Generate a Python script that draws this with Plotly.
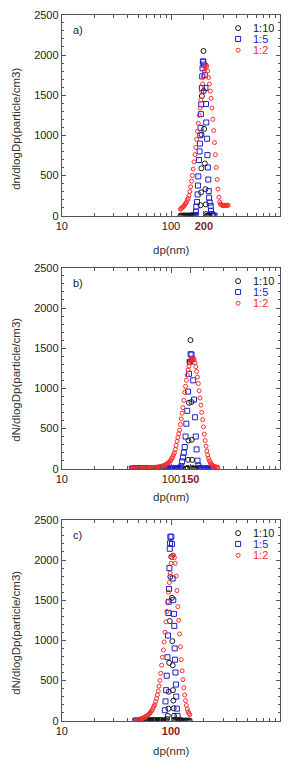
import plotly.graph_objects as go

# ---------------- data (dp in nm, dN/dlogDp in particle/cm3) ----------------
# panel a
a_red_dp = [121.9, 124.1, 126.3, 128.6, 131.0, 133.4, 135.8, 138.2, 140.8, 143.3,
            145.9, 148.6, 151.2, 154.0, 156.8, 159.6, 162.5, 165.5, 168.5, 171.5,
            174.7, 177.8, 181.1, 184.3, 187.7, 191.1, 194.6, 198.1, 201.7, 205.4,
            209.1, 212.9, 216.7, 220.7, 224.7, 228.8, 232.9, 237.1, 241.4, 245.8,
            250.3, 254.8, 259.5, 264.2, 269.0, 273.9, 278.8, 283.9, 289.0, 294.3,
            299.6, 305.1, 310.6, 316.2, 322.0, 327.8, 333.8]
a_red = [80, 90, 100, 110, 120, 135, 150, 165, 190, 215,
         250, 300, 360, 430, 500, 580, 670, 760, 850, 950,
         1050, 1150, 1250, 1340, 1440, 1540, 1640, 1730, 1800, 1850,
         1880, 1860, 1800, 1720, 1640, 1550, 1460, 1340, 1200, 1060,
         910, 760, 600, 450, 330, 230, 170, 145, 135, 130,
         125, 125, 125, 128, 130, 130, 128]
a_blue_dp = [156.8, 159.6, 162.5, 165.5, 168.2, 169.3, 170.5, 172.9, 175.3, 176.4,
             177.7, 180.2, 182.7, 183.9, 185.2, 186.4, 187.7, 189.0, 191.6, 193.0,
             194.3, 195.6, 197.6, 199.7, 203.9, 206.7, 209.0, 210.3, 213.9, 215.4,
             217.5, 219.5, 221.4, 223.0, 226.1, 230.8, 232.4, 235.6, 239.0, 241.4,
             245.8, 250.3]
a_blue = [0, 0, 0, 0, 10, 49, 114, 171, 265, 375,
          489, 693, 800, 897, 1000, 1093, 1264, 1386, 1590, 1733,
          1835, 1917, 1920, 1880, 1750, 1590, 1390, 1160, 958, 754,
          600, 450, 306, 224, 163, 122, 61, 20, 5, 0,
          0, 0]
a_black_dp = [121.9, 124.1, 126.3, 128.6, 131.0, 133.4, 135.8, 138.2, 140.8, 143.3,
              145.9, 148.6, 151.2, 154.0, 156.8, 186.4, 188.4, 189.6, 190.3, 191.6,
              198.4, 199.7, 201.1, 203.9, 206.7, 208.2, 209.6, 212.9, 216.7, 220.7,
              224.7]
a_black = [0, 0, 0, 0, 0, 0, 0, 0, 0, 0,
           0, 0, 0, 0, 0, 130, 290, 590, 1010, 1490,
           2050, 1550, 1080, 650, 330, 140, 20, 0, 0, 0,
           0]

# panel b
b_dp = [43.7, 44.5, 45.3, 46.1, 47.0, 47.8, 48.7, 49.6, 50.5, 51.4,
        52.3, 53.3, 54.2, 55.2, 56.2, 57.3, 58.3, 59.4, 60.4, 61.5,
        62.6, 63.8, 64.9, 66.1, 67.3, 68.5, 69.8, 71.0, 72.3, 73.7,
        75.0, 76.4, 77.7, 79.1, 80.6, 82.0, 83.5, 85.1, 86.6, 88.2,
        89.8, 91.4, 93.1, 94.7, 96.5, 98.2, 100.0, 101.8, 103.7, 105.5,
        107.5, 109.4, 111.4, 113.4, 115.5, 117.6, 119.7, 121.9, 124.1, 126.3,
        128.6, 131.0, 133.4, 135.8, 138.2, 140.8, 143.3, 145.9, 148.6, 151.2,
        154.0, 156.8, 159.6, 162.5, 165.5, 168.5, 171.5, 174.7, 177.8, 181.1,
        184.3, 187.7, 191.1, 194.6, 198.1, 201.7, 205.4, 209.1, 212.9, 216.7,
        220.7, 224.7, 228.8, 232.9, 237.1, 241.4, 245.8, 250.3, 254.8, 259.5,
        264.2, 269.0]
b_red = [3, 3, 3, 3, 4, 4, 4, 4, 5, 5,
         5, 5, 6, 6, 6, 7, 7, 8, 8, 9,
         10, 10, 11, 12, 13, 14, 15, 16, 17, 18,
         19, 20, 22, 24, 26, 29, 32, 36, 40, 45,
         50, 56, 63, 72, 82, 95, 110, 130, 150, 175,
         200, 240, 290, 340, 390, 435, 480, 550, 620, 690,
         760, 850, 950, 1025, 1100, 1165, 1230, 1275, 1320, 1350,
         1370, 1378, 1375, 1355, 1320, 1270, 1210, 1140, 1060, 970,
         880, 790, 700, 610, 520, 430, 350, 280, 220, 170,
         130, 100, 75, 58, 45, 37, 30, 26, 22, 20,
         18, 16]
b_blue = [0, 0, 0, 0, 0, 0, 0, 0, 0, 0,
          0, 0, 0, 0, 0, 0, 0, 0, 0, 0,
          0, 0, 0, 0, 0, 0, 0, 0, 0, 0,
          0, 0, 0, 0, 0, 0, 0, 0, 0, 0,
          0, 0, 0, 0, 0, 0, 0, 0, 0, 0,
          0, 0, 0, 0, 0, 0, 5, 15, 30, 90,
          140, 200, 270, 400, 560, 720, 960, 1180, 1330, 1425,
          1420, 1368, 1100, 860, 640, 400, 240, 100, 40, 10,
          0, 0, 0, 0, 0, 0, 0, 0, 0, 0,
          0, 0, 0, 0, 0, 0]
b_black_dp = [135.8, 138.2, 140.8, 142.4, 143.5, 144.5, 146.0, 147.6, 150.7, 153.0,
              153.8, 154.8, 155.9, 157.0, 159.6, 162.5, 165.5, 168.5]
b_black = [0, 0, 0, 10, 110, 350, 820, 1330, 1600, 1350,
           830, 360, 110, 10, 0, 0, 0, 0]

# panel c
c_red_dp = [47.8, 48.7, 49.6, 50.5, 51.4, 52.3, 53.3, 54.2, 55.2, 56.2,
            57.3, 58.3, 59.4, 60.4, 61.5, 62.6, 63.8, 64.9, 66.1, 67.3,
            68.5, 69.8, 71.0, 72.3, 73.7, 75.0, 76.4, 77.7, 79.1, 80.6,
            82.0, 83.5, 85.1, 86.6, 88.2, 89.8, 91.4, 93.1, 94.7, 96.5,
            98.2, 100.0, 101.8, 103.7, 105.5, 107.5, 109.4, 111.4, 113.4, 115.5,
            117.6, 119.7, 121.9, 124.1, 126.3, 128.6, 131.0, 133.4, 135.8, 138.2,
            140.8, 143.3, 145.9, 148.6]
c_red = [12, 13, 14, 16, 18, 20, 23, 27, 31, 36,
         42, 48, 55, 62, 70, 80, 92, 105, 120, 135,
         160, 180, 200, 235, 275, 320, 370, 430, 500, 590,
         690, 790, 880, 980, 1100, 1230, 1360, 1480, 1600, 1720,
         1840, 1960, 2030, 2060, 2060, 2030, 1960, 1800, 1620, 1420,
         1250, 1080, 920, 760, 620, 510, 410, 320, 250, 190,
         145, 110, 90, 75]
c_blue_dp = [47.0, 47.8, 48.7, 49.6, 50.5, 51.4, 52.3, 53.3, 54.2, 55.2,
             56.2, 57.3, 58.3, 59.4, 60.4, 61.5, 62.6, 63.8, 64.9, 66.1,
             67.3, 68.5, 69.8, 71.0, 72.3, 73.7, 75.0, 76.4, 77.7, 79.1,
             80.6, 82.0, 83.5, 85.1, 86.6, 87.8, 89.0, 90.2, 91.4, 92.7,
             93.9, 94.6, 95.2, 95.9, 96.6, 97.3, 98.0, 98.6, 100.7, 102.1,
             103.5, 104.9, 106.4, 107.2, 108.0, 108.6, 109.8, 110.9, 111.7, 113.2,
             114.8, 117.2, 119.7, 121.9]
c_blue = [0, 0, 0, 0, 0, 0, 0, 0, 0, 0,
          0, 0, 0, 0, 0, 0, 0, 0, 0, 0,
          0, 0, 0, 0, 0, 0, 0, 0, 0, 0,
          0, 0, 0, 0, 0, 130, 240, 380, 560, 790,
          1060, 1340, 1480, 1640, 1900, 2140, 2210, 2290, 2290, 2200,
          1770, 1500, 1330, 1180, 900, 760, 600, 450, 300, 150,
          60, 10, 0, 0]
c_black_dp = [55.2, 56.2, 57.3, 58.3, 59.4, 60.4, 61.5, 62.6, 63.8, 64.9,
              66.1, 67.3, 68.5, 69.8, 71.0, 72.3, 73.7, 75.0, 76.4, 77.7,
              79.1, 80.6, 82.0, 83.5, 85.1, 86.6, 88.2, 90.5, 92.1, 93.3,
              94.6, 95.3, 96.2, 97.3, 98.6, 100.7, 102.0, 102.8, 103.6, 104.2,
              105.0, 105.7, 106.5, 107.2, 109.4, 111.4, 113.4, 115.5, 117.6, 119.7,
              121.9, 124.1, 126.3, 128.6, 131.0, 133.4, 135.8, 138.2, 140.8, 143.3,
              145.9, 148.6]
c_black = [0, 0, 0, 0, 0, 0, 0, 0, 0, 0,
           0, 0, 0, 0, 0, 0, 0, 0, 0, 0,
           0, 0, 0, 0, 0, 0, 0, 0, 20, 60,
           150, 360, 720, 1240, 1790, 2040, 1530, 990, 690, 380,
           250, 155, 60, 10, 0, 0, 0, 0, 0, 0,
           0, 0, 0, 0, 0, 0, 0, 0, 0, 0,
           0, 0]

series_names = ["1:10", "1:5", "1:2"]
x_ticks = [10, 100, 1000]
y_ticks = [0, 500, 1000, 1500, 2000, 2500]
panel_letters = ["a)", "b)", "c)"]
panel_marks = [200, 150, 100]          # size highlighted on the x axis
y_titles = ["dn/dlogDp(particle/cm3)", "dN/dlogDp(particle/cm3)", "dN/dlogDp(particle/cm3)"]

for xs, ys in [(a_red_dp, a_red), (a_blue_dp, a_blue), (a_black_dp, a_black),
               (b_dp, b_red), (c_red_dp, c_red), (c_blue_dp, c_blue), (c_black_dp, c_black),
               (b_black_dp, b_black)]:
    assert len(xs) == len(ys), (len(xs), len(ys))
assert len(b_blue) <= len(b_dp)

panels = [
    dict(black=(a_black_dp, a_black), blue=(a_blue_dp, a_blue), red=(a_red_dp, a_red)),
    dict(black=(b_black_dp, b_black), blue=(b_dp[:len(b_blue)], b_blue), red=(b_dp, b_red)),
    dict(black=(c_black_dp, c_black), blue=(c_blue_dp, c_blue), red=(c_red_dp, c_red)),
]

# ---------------- styling / layout ----------------
W, H = 291, 770
FONT = "Liberation Sans, Arial, sans-serif"
TXT = "#222222"
BLACK, BLUE, RED = "#1a1a1a", "#1e1ed2", "#ff2b2b"
MARK = "#8b1a1a"
X0, X1 = 57, 280
tops = [9, 266, 522]
bottoms = [213, 470, 726]

def px(x):
    return x / W

def py(y):
    return 1 - y / H

fig = go.Figure()
annotations = []
shapes = []

for i, p in enumerate(panels):
    n = "" if i == 0 else str(i + 1)
    xa, ya = "x" + n, "y" + n
    style = dict(
        blue=dict(symbol="square-open", size=5, color=BLUE, line=dict(width=1, color=BLUE)),
        black=dict(symbol="circle-open", size=5, color=BLACK, line=dict(width=1, color=BLACK)),
        red=dict(symbol="circle-open", size=4, color=RED, line=dict(width=1, color=RED)),
    )
    for key in ["blue", "black", "red"]:
        xs, ys = p[key]
        fig.add_trace(go.Scatter(x=xs, y=ys, mode="markers", marker=style[key],
                                 xaxis=xa, yaxis=ya, showlegend=False, hoverinfo="skip"))

    mark = panel_marks[i]
    hl = '<b><span style="color:%s">%d</span></b>' % (MARK, mark)
    tv, tt = [], []
    for t in x_ticks:
        tv.append(t)
        tt.append(hl if t == mark else str(t))
    if mark not in x_ticks:
        tv.append(mark)
        tt.append(hl)

    common = dict(showline=True, linecolor="#555555", linewidth=1, mirror="ticks",
                  ticks="inside", tickcolor="#555555", showgrid=False, zeroline=False,
                  tickfont=dict(family=FONT, size=11, color=TXT))
    fig.update_layout(**{
        ("xaxis" + n): dict(type="log", range=[1, 3], domain=[px(X0), px(X1)], anchor=ya,
                            tickvals=tv, ticktext=tt, ticklen=5,
                            minor=dict(ticks="inside", ticklen=3, dtick="D1", tickcolor="#555555", showgrid=False),
                            **common),
        ("yaxis" + n): dict(range=[0, 2500], domain=[py(bottoms[i]), py(tops[i])], anchor=xa,
                            tickvals=y_ticks, ticklen=4,
                            minor=dict(ticks="inside", ticklen=2, dtick=100, tickcolor="#555555", showgrid=False),
                            **common),
    })

    top = tops[i]
    annotations.append(dict(text=panel_letters[i], x=px(66), y=py(top + 15.5), xref="paper", yref="paper",
                            xanchor="left", yanchor="middle", showarrow=False,
                            font=dict(family=FONT, size=11, color=TXT)))
    rows = [top + 13.5, top + 24.5, top + 36]
    cols = [BLACK, BLUE, RED]
    for r, (yy, c, name) in enumerate(zip(rows, cols, series_names)):
        annotations.append(dict(text=name, x=px(250), y=py(yy), xref="paper", yref="paper",
                                xanchor="left", yanchor="middle", showarrow=False,
                                font=dict(family=FONT, size=11, color=c)))
        half = 2.5 if r < 2 else 2.0
        shapes.append(dict(type="circle" if r != 1 else "rect", xref="paper", yref="paper",
                           xsizemode="pixel", ysizemode="pixel", xanchor=px(237), yanchor=py(yy),
                           x0=-half, x1=half, y0=-half, y1=half, line=dict(color=c, width=1)))
    ymid = [125, 380, 637][i]
    annotations.append(dict(text=y_titles[i], x=px(10), y=py(ymid), xref="paper", yref="paper",
                            textangle=-90, xanchor="center", yanchor="middle", showarrow=False,
                            font=dict(family=FONT, size=11.5, color="#333333")))
    annotations.append(dict(text="dp(nm)", x=px(169), y=py([248, 499, 757][i]), xref="paper", yref="paper",
                            xanchor="center", yanchor="middle", showarrow=False,
                            font=dict(family=FONT, size=11.5, color="#333333")))

fig.update_layout(width=W, height=H, margin=dict(l=0, r=0, t=0, b=0),
                  paper_bgcolor="white", plot_bgcolor="white",
                  annotations=annotations, shapes=shapes, showlegend=False,
                  font=dict(family=FONT, color=TXT))
fig.write_html("out.html")
